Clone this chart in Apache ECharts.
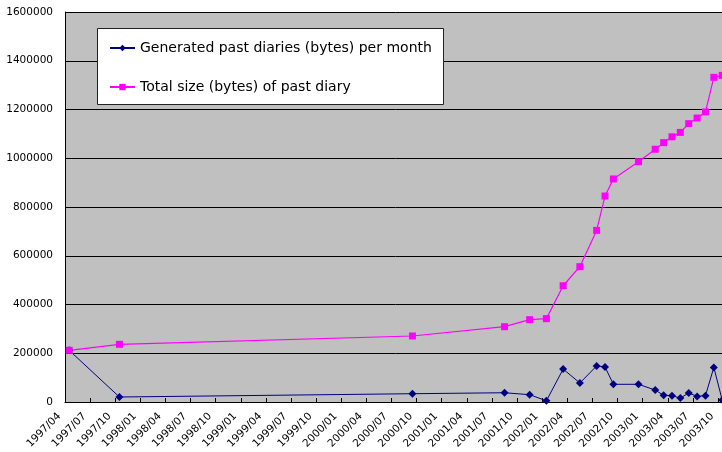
<!DOCTYPE html>
<html>
<head>
<meta charset="utf-8">
<script src="https://cdn.jsdelivr.net/npm/echarts@6/dist/echarts.min.js"></script>
<style>
html,body{margin:0;padding:0;overflow:hidden;background:#fff;}
#chart{width:730px;height:452px;}
</style>
</head>
<body>
<div id="chart"></div>
<script>
// ---- data ----
const months = ['1997/04','1997/10','2000/09','2001/08','2001/11','2002/01','2002/03','2002/05','2002/07','2002/08','2002/09','2002/12','2003/02','2003/03','2003/04','2003/05','2003/06','2003/07','2003/08','2003/09','2003/10'];
const generated = [212000,20500,34000,38000,30000,5000,135000,78000,148000,144000,72600,72600,49000,27500,26000,16000,37000,23000,26000,142000,8000];
const total = [212000,236700,270800,309000,337700,342000,477000,555000,704000,845000,915000,986000,1037000,1064000,1088000,1106000,1142000,1165000,1190000,1332000,1340000];
const seriesNames = ['Generated past diaries (bytes) per month','Total size (bytes) of past diary'];
const axisFirstMonth = '1997/04';
const axisMonthSpan = 79;      // months shown on the axis
const tickEveryMonths = 3;
const yTicks = [0,200000,400000,600000,800000,1000000,1200000,1400000,1600000];

// ---- helpers ----
const [y0, m0] = axisFirstMonth.split('/').map(Number);
function monthIndex(s){ const [y,m] = s.split('/').map(Number); return (y - y0) * 12 + (m - m0); }
function monthLabel(v){
  const t = Math.round(v) + (m0 - 1);
  const y = y0 + Math.floor(t / 12);
  const m = (t % 12) + 1;
  return y + '/' + (m < 10 ? '0' + m : m);
}
// points sit in the middle of their month
const genData = months.map((mo, i) => [monthIndex(mo) + 0.5, generated[i]]);
const totData = months.map((mo, i) => [monthIndex(mo) + 0.5, total[i]]);

const chart = echarts.init(document.getElementById('chart'), null, {renderer: 'canvas'});
const font = 'DejaVu Sans';
chart.setOption({
  animation: false,
  backgroundColor: '#ffffff',
  grid: {left: 65, top: 12, bottom: 50, right: 3.6, show: true, backgroundColor: '#C0C0C0', borderWidth: 0,
         containLabel: false, outerBoundsMode: 'none'},
  xAxis: {
    type: 'value', min: 0, max: axisMonthSpan, interval: tickEveryMonths,
    axisLine: {show: true, lineStyle: {color: '#000', width: 1}},
    axisTick: {show: true, inside: true, length: 4, lineStyle: {color: '#000'}},
    splitLine: {show: false},
    axisLabel: {
      rotate: 45, margin: 7, padding: [0, 8, 0, 0], showMaxLabel: false, hideOverlap: false,
      fontFamily: font, fontSize: 10.5, color: '#000',
      formatter: v => monthLabel(v)
    }
  },
  yAxis: {
    type: 'value', min: yTicks[0], max: yTicks[yTicks.length - 1], interval: yTicks[1] - yTicks[0],
    axisLine: {show: true, lineStyle: {color: '#000', width: 1}},
    axisTick: {show: true, inside: true, length: 5, lineStyle: {color: '#000'}},
    splitLine: {show: true, lineStyle: {color: '#000', width: 1}},
    axisLabel: {margin: 12, fontFamily: font, fontSize: 10.5, color: '#000', formatter: v => String(v)}
  },
  graphic: [{
    type: 'rect', z: 3,
    shape: {x: 97.5, y: 28.5, width: 346, height: 76},
    style: {fill: '#fff', stroke: '#222', lineWidth: 1}
  }],
  legend: {
    z: 5, orient: 'vertical', left: 109, top: 41, padding: 0, itemGap: 25,
    itemWidth: 25, itemHeight: 8,
    textStyle: {fontFamily: font, fontSize: 14, color: '#000', lineHeight: 14},
    data: seriesNames
  },
  series: [
    {
      name: seriesNames[0], type: 'line', data: genData,
      symbol: 'diamond', symbolSize: 8, showAllSymbol: true,
      lineStyle: {color: '#000080', width: 1},
      itemStyle: {color: '#000080'}
    },
    {
      name: seriesNames[1], type: 'line', data: totData,
      symbol: 'rect', symbolSize: 7, showAllSymbol: true,
      lineStyle: {color: '#FF00FF', width: 1.2},
      itemStyle: {color: '#FF00FF'}
    }
  ]
});
</script>
</body>
</html>
